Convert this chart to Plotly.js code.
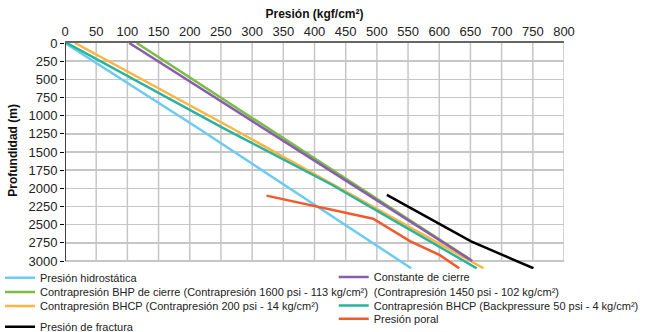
<!DOCTYPE html>
<html>
<head>
<meta charset="utf-8">
<script src="https://cdn.plot.ly/plotly-3.0.1.min.js"></script>
<style>html,body{margin:0;padding:0;background:#fff;}#chart{width:648px;height:332px;}</style>
</head>
<body>
<div id="chart"></div>
<script>
// Tick labels
const xTicks = [0,50,100,150,200,250,300,350,400,450,500,550,600,650,700,750,800];
const yTicks = [0,250,500,750,1000,1250,1500,1750,2000,2250,2500,2750,3000];

// Series: pressure (kgf/cm²) vs depth (m)
const hidroP = [0, 213, 555];
const hidroD = [0, 1170, 3100];
const bhpCierreP = [115, 650];
const bhpCierreD = [0, 2980];
const bhcp200P = [16, 267, 671];
const bhcp200D = [0, 1170, 3100];
const fracturaP = [516, 651, 751];
const fracturaD = [2090, 2730, 3100];
const constanteP = [103, 653];
const constanteD = [0, 3000];
const bhcp50P = [3, 253, 427, 660];
const bhcp50D = [0, 1167, 1947, 3100];
const poralP = [323, 376, 494, 553, 601, 632];
const poralD = [2100, 2199, 2419, 2727, 2920, 3100];

const names = {
  hidro: 'Presión hidrostática',
  bhpCierre: 'Contrapresión BHP de cierre (Contrapresión 1600 psi - 113 kg/cm²)',
  bhcp200: 'Contrapresión BHCP (Contrapresión 200 psi - 14 kg/cm²)',
  fractura: 'Presión de fractura',
  constante: 'Constante de cierre<br>(Contrapresión 1450 psi - 102 kg/cm²)',
  bhcp50: 'Contrapresión BHCP (Backpressure 50 psi - 4 kg/cm²)',
  poral: 'Presión poral'
};
const xTitle = 'Presión (kgf/cm²)';
const yTitle = 'Profundidad (m)';

const colors = {
  hidro: '#6ccbf2',
  bhpCierre: '#79bd44',
  bhcp200: '#fdb541',
  fractura: '#000000',
  constante: '#8a5cad',
  bhcp50: '#2ab39c',
  poral: '#f15a2c'
};

function tr(x, y, key, legend) {
  return {
    type: 'scatter', mode: 'lines', x: x, y: y, name: names[key],
    line: {color: colors[key], width: 2.5},
    legend: legend, hoverinfo: 'skip'
  };
}

const data = [
  tr(hidroP, hidroD, 'hidro', 'legend'),
  tr(bhpCierreP, bhpCierreD, 'bhpCierre', 'legend2'),
  tr(bhcp200P, bhcp200D, 'bhcp200', 'legend3'),
  tr(fracturaP, fracturaD, 'fractura', 'legend4'),
  tr(constanteP, constanteD, 'constante', 'legend5'),
  tr(bhcp50P, bhcp50D, 'bhcp50', 'legend6'),
  tr(poralP, poralD, 'poral', 'legend7')
];

const gridColor = '#c6c6c6';
const shapes = xTicks.filter(v => v > 0).map(v => ({
  type: 'line', xref: 'x', yref: 'y', x0: v, x1: v,
  y0: yTicks[0], y1: yTicks[yTicks.length - 1],
  line: {color: gridColor, width: 1.5}, layer: 'below'
}));
shapes.push({
  type: 'line', xref: 'x', yref: 'y', x0: 0, x1: 0,
  y0: yTicks[0], y1: yTicks[yTicks.length - 1],
  line: {color: '#000', width: 1.5}, layer: 'above'
});

const font = 'Liberation Sans, Arial, sans-serif';
function leg(x, y, extra) {
  return Object.assign({
    xref: 'container', yref: 'container', yanchor: 'top', xanchor: 'left',
    x: x, y: y,
    bgcolor: 'rgba(0,0,0,0)', font: {family: font, size: 11, color: '#222'},
    traceorder: 'normal', itemwidth: 30
  }, extra || {});
}

const layout = {
  width: 648, height: 332,
  margin: {l: 65, r: 84, t: 43, b: 63, autoexpand: false},
  paper_bgcolor: '#fff', plot_bgcolor: '#fff',
  font: {family: font, color: '#222'},
  showlegend: true,
  xaxis: {
    side: 'top', range: [0, 800], tickvals: xTicks, ticktext: xTicks.map(String),
    showgrid: false, zeroline: false, showline: true, linecolor: '#666', linewidth: 2,
    ticks: '', tickfont: {size: 13, family: font, color: '#222'},
    title: {text: xTitle, font: {size: 12, family: font, weight: 'bold', color: '#111'}, standoff: 3}
  },
  yaxis: {
    range: [3110, 0], tickvals: yTicks, ticktext: yTicks.map(String),
    showgrid: true, gridcolor: gridColor, gridwidth: 1.5, zeroline: false, showline: false,
    ticks: 'outside', ticklen: 4, tickcolor: '#000', tickwidth: 1,
    tickfont: {size: 13, family: font, color: '#222'}
  },
  annotations: [{
    text: yTitle, xref: 'paper', yref: 'paper', x: -0.1048, y: 0.5265,
    xanchor: 'center', yanchor: 'middle', textangle: -90, showarrow: false,
    font: {size: 12, family: font, weight: 'bold', color: '#111'}
  }],
  legend: leg(0.0, 0.2069),
  legend2: leg(0.0, 0.1639),
  legend3: leg(0.0, 0.1217),
  legend4: leg(0.0, 0.0593),
  legend5: leg(0.515, 0.2069, {valign: 'top'}),
  legend6: leg(0.515, 0.1238),
  legend7: leg(0.515, 0.0834),
  shapes: shapes
};

Plotly.newPlot('chart', data, layout, {displayModeBar: false, staticPlot: true});
</script>
</body>
</html>
